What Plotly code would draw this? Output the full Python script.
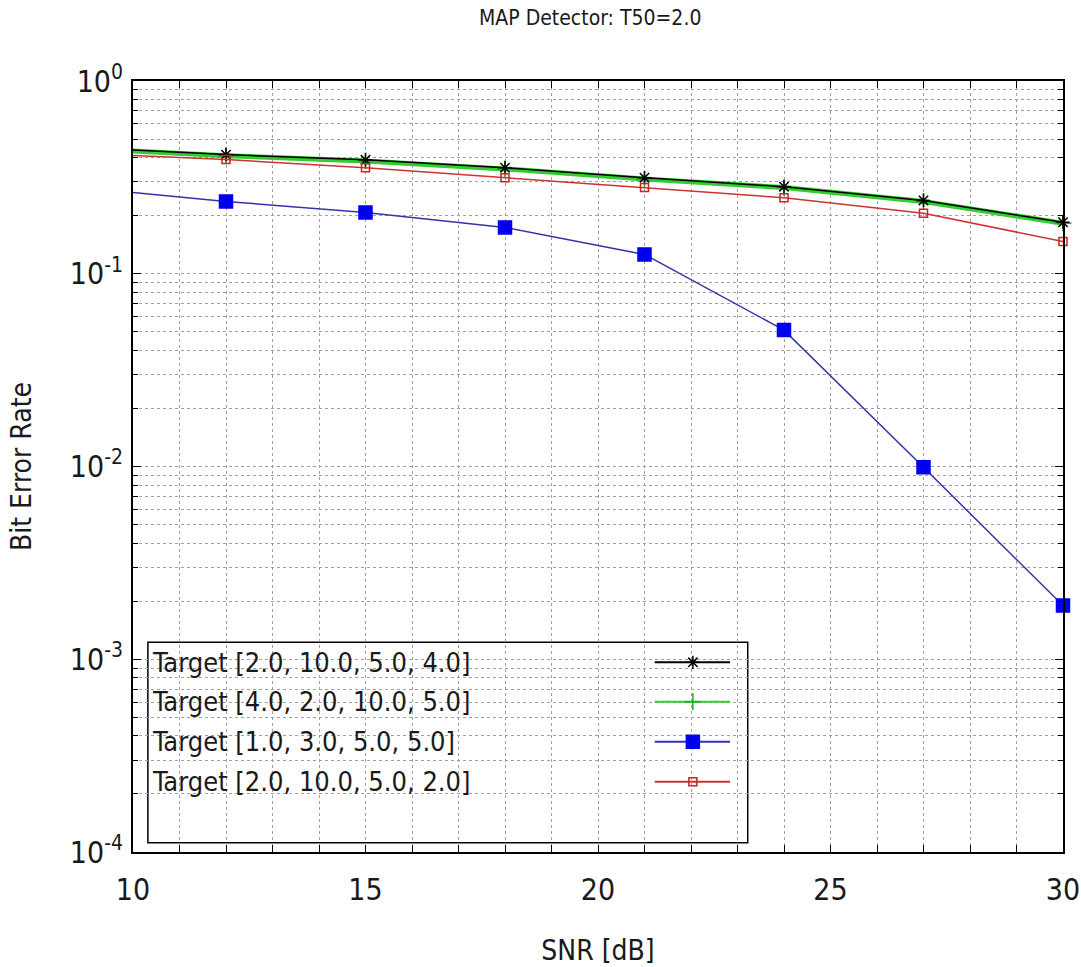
import plotly.graph_objects as go

# SNR sweep points (dB) and measured bit error rates per target profile
snr_db = [9, 12, 15, 18, 21, 24, 27, 30]
ber_2_10_5_4 = [0.45, 0.415, 0.39, 0.355, 0.315, 0.283, 0.24, 0.185]
ber_4_2_10_5 = [0.445, 0.41, 0.385, 0.35, 0.31, 0.28, 0.237, 0.183]
ber_1_3_5_5 = [0.278, 0.237, 0.208, 0.174, 0.126, 0.051, 0.0099, 0.0019]
ber_2_10_5_2 = [0.42, 0.391, 0.355, 0.315, 0.28, 0.248, 0.206, 0.147]

series_names = [
    "Target [2.0, 10.0, 5.0, 4.0]",
    "Target [4.0, 2.0, 10.0, 5.0]",
    "Target [1.0, 3.0, 5.0, 5.0]",
    "Target [2.0, 10.0, 5.0, 2.0]",
]

x_ticks = list(range(10, 31))
x_labels = [str(v) if v % 5 == 0 else "" for v in x_ticks]
y_major = [1e-4, 1e-3, 1e-2, 1e-1, 1e0]
y_major_labels = ["10<sup>-4</sup>", "10<sup>-3</sup>", "10<sup>-2</sup>",
                  "10<sup>-1</sup>", "10<sup>0</sup>"]

X_MIN, X_MAX = 10, 30
FONT = "DejaVu Sans Condensed, Liberation Sans Narrow, sans-serif"
TXT = "#1a1a1a"

styles = [
    dict(color="#000000", width=1.5, symbol="asterisk-open", size=11, mcolor="#000000"),
    dict(color="#33cc33", width=5, symbol="cross-thin-open", size=12, mcolor="#22aa22"),
    dict(color="#3333aa", width=1.5, symbol="square", size=13, mcolor="#0000ee"),
    dict(color="#cc3333", width=1.5, symbol="square-open", size=8, mcolor="#cc2222"),
]
data = [ber_2_10_5_4, ber_4_2_10_5, ber_1_3_5_5, ber_2_10_5_2]
draw_order = [1, 0, 3, 2]

fig = go.Figure()
for i in draw_order:
    st = styles[i]
    sizes = [0 if x < X_MIN else st["size"] for x in snr_db]
    fig.add_trace(go.Scatter(
        x=snr_db, y=data[i], mode="lines+markers", name=series_names[i],
        line=dict(color=st["color"], width=st["width"]),
        marker=dict(symbol=st["symbol"], size=sizes, color=st["mcolor"], opacity=1,
                    line=dict(color=st["mcolor"], width=1.5)),
        cliponaxis=False, showlegend=False,
    ))

# Legend box drawn on an overlay axis spanning the plot area (0..1)
box_x0, box_x1, box_y0, box_y1 = 0.016, 0.661, 0.012, 0.272
fig.add_shape(type="rect", xref="paper", yref="paper",
              x0=box_x0, x1=box_x1, y0=box_y0, y1=box_y1,
              fillcolor="white", line=dict(color="black", width=1.5),
              layer="between")
row_y = [0.246, 0.195, 0.143, 0.091]
for i, name in enumerate(series_names):
    st = styles[i]
    fig.add_annotation(text=name, xref="paper", yref="paper", x=0.018, y=row_y[i],
                       xanchor="left", yanchor="middle", showarrow=False,
                       font=dict(family=FONT, size=27, color=TXT))
    fig.add_trace(go.Scatter(
        x=[0.561, 0.642], y=[row_y[i], row_y[i]], mode="lines",
        line=dict(color=st["color"], width=2),
        xaxis="x2", yaxis="y2", showlegend=False, hoverinfo="skip",
    ))
    fig.add_trace(go.Scatter(
        x=[0.602], y=[row_y[i]], mode="markers",
        marker=dict(symbol=st["symbol"], size=st["size"], color=st["mcolor"],
                    line=dict(color=st["mcolor"], width=1.5)),
        xaxis="x2", yaxis="y2", showlegend=False, hoverinfo="skip",
        cliponaxis=False,
    ))

grid = dict(showgrid=True, gridcolor="#a0a0a0", gridwidth=1, griddash="3px,3px")

fig.update_layout(
    width=1081, height=967,
    margin=dict(l=133, r=18, t=81, b=115),
    paper_bgcolor="white", plot_bgcolor="white",
    font=dict(family=FONT, color=TXT),
    title=dict(text="MAP Detector: T50=2.0", x=0.546, xanchor="center",
               y=0.982, yanchor="middle", font=dict(family=FONT, size=21, color=TXT)),
    xaxis=dict(
        range=[X_MIN, X_MAX], tickvals=x_ticks, ticktext=x_labels,
        ticks="inside", ticklen=7, tickcolor="black", mirror="allticks",
        showline=True, linecolor="black", linewidth=2, automargin=False,
        tickfont=dict(family=FONT, size=30, color=TXT), ticklabelstandoff=10,
        title=dict(text="SNR [dB]", font=dict(family=FONT, size=28, color=TXT), standoff=38),
        zeroline=False, **grid,
    ),
    yaxis=dict(
        type="log", range=[-4, 0], tickvals=y_major, ticktext=y_major_labels,
        ticks="inside", ticklen=8, tickcolor="black", mirror="allticks",
        showline=True, linecolor="black", linewidth=2, automargin=False,
        tickfont=dict(family=FONT, size=30, color=TXT), ticklabelstandoff=2,
        title=dict(text="Bit Error Rate", font=dict(family=FONT, size=28, color=TXT), standoff=30),
        minor=dict(dtick="D1", ticks="inside", ticklen=5, tickcolor="black",
                   showgrid=True, gridcolor="#a0a0a0", gridwidth=1, griddash="3px,3px"),
        zeroline=False, **grid,
    ),
    xaxis2=dict(overlaying="x", range=[0, 1], visible=False, anchor="y2"),
    yaxis2=dict(overlaying="y", range=[0, 1], visible=False, anchor="x2"),
)

fig.write_html("out.html")
